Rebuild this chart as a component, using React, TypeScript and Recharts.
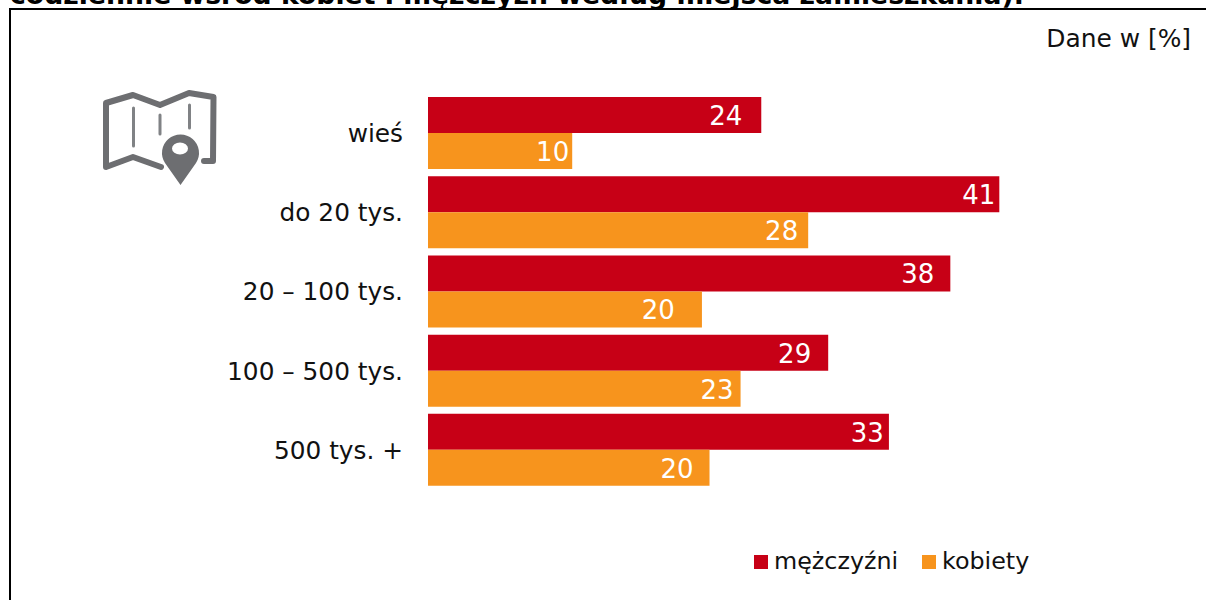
import { BarChart, Bar, XAxis, YAxis, Legend, LabelList } from "recharts";

const categories = ["wieś", "do 20 tys.", "20 – 100 tys.", "100 – 500 tys.", "500 tys. +"];
const men = [24.15, 41.4, 37.85, 29.0, 33.4];
const women = [10.45, 27.55, 19.85, 22.65, 20.4];

// the printed labels sit at uneven distances from the bar ends
const menLabelInset = [19, 4, 16, 17, 5];
const womenLabelInset = [3, 10, 27, 7, 16];

const MEN_COLOR = "#c70016";
const WOMEN_COLOR = "#f7941d";
const FONT = "Verdana, 'DejaVu Sans', sans-serif";

const data = categories.map((name, i) => ({ name, men: men[i], women: women[i] }));

const makeLabel = (insets: number[]) => (props: any) => {
  const { x, y, width, height, value, index } = props;
  return (
    <text
      x={x + width - insets[index]}
      y={y + height / 2 + 1}
      textAnchor="end"
      dominantBaseline="central"
      fill="#ffffff"
      fontSize={26}
      fontFamily={FONT}
    >
      {Math.round(value)}
    </text>
  );
};

function LegendContent() {
  const item = (label: string, color: string, left: number) => (
    <div style={{ position: "absolute", left, top: 57, display: "flex", alignItems: "center" }}>
      <span style={{ width: 14, height: 14, background: color, marginRight: 6, marginTop: 3 }} />
      <span style={{ fontSize: 23.8, lineHeight: "28px", color: "#111" }}>{label}</span>
    </div>
  );
  return (
    <div style={{ position: "relative", height: 80.5, fontFamily: FONT }}>
      {item("mężczyźni", MEN_COLOR, 754)}
      {item("kobiety", WOMEN_COLOR, 922)}
    </div>
  );
}

function MapIcon() {
  return (
    <svg width={1206} height={600} style={{ position: "absolute", left: 0, top: 0 }}>
      <path
        d="M204 161 L213 161 L213.5 97 L189 93 L160 105 L133 95 L106 103 L106 167 L133 157 L161 167"
        fill="none"
        stroke="#6d6e71"
        strokeWidth={6}
        strokeLinejoin="round"
        strokeLinecap="round"
      />
      <g stroke="#808285" strokeWidth={3} strokeLinecap="round">
        <line x1={133.5} y1={108} x2={133.5} y2={146} />
        <line x1={160} y1={115} x2={160} y2={134} />
        <line x1={189.5} y1={105} x2={189.5} y2={128} />
      </g>
      <path d="M180.5 185 L165 163 A18.5 18.5 0 1 1 196 163 Z" fill="#6d6e71" />
      <ellipse cx={180} cy={148.5} rx={8} ry={6} fill="#ffffff" />
    </svg>
  );
}

export default function App() {
  return (
    <div style={{ position: "fixed", left: 0, top: 0, width: 1206, height: 600, overflow: "hidden", background: "#fff" }}>
      <div
        style={{
          position: "absolute",
          left: 10,
          top: -19,
          fontFamily: FONT,
          fontWeight: 700,
          fontSize: 26.7,
          lineHeight: "28px",
          whiteSpace: "nowrap",
          color: "#000",
        }}
      >
        codziennie wśród kobiet i mężczyzn według miejsca zamieszkania).
      </div>
      <div
        style={{
          position: "absolute",
          left: 9,
          top: 8,
          width: 1300,
          height: 700,
          border: "2.5px solid #000",
          boxSizing: "border-box",
        }}
      />
      <div
        style={{
          position: "absolute",
          right: 15,
          top: 25,
          fontFamily: FONT,
          fontSize: 24.9,
          lineHeight: "28px",
          color: "#111",
        }}
      >
        Dane w [%]
      </div>
      <MapIcon />
      <div style={{ position: "absolute", left: 0, top: 0 }}>
        <BarChart
          width={1206}
          height={600}
          data={data}
          layout="vertical"
          barCategoryGap="4.5%"
          barGap={0}
          margin={{ top: 93.5, right: 88, bottom: 30, left: 0 }}
        >
          <XAxis type="number" domain={[0, 50]} hide />
          <YAxis
            type="category"
            dataKey="name"
            width={428}
            axisLine={false}
            tickLine={false}
            tickSize={0}
            tickMargin={25}
            interval={0}
            tick={{ fontSize: 24.8, fontFamily: FONT, fill: "#111" }}
          />
          <Legend verticalAlign="bottom" content={<LegendContent />} />
          <Bar dataKey="men" fill={MEN_COLOR} isAnimationActive={false}>
            <LabelList dataKey="men" content={makeLabel(menLabelInset)} />
          </Bar>
          <Bar dataKey="women" fill={WOMEN_COLOR} isAnimationActive={false}>
            <LabelList dataKey="women" content={makeLabel(womenLabelInset)} />
          </Bar>
        </BarChart>
      </div>
    </div>
  );
}
